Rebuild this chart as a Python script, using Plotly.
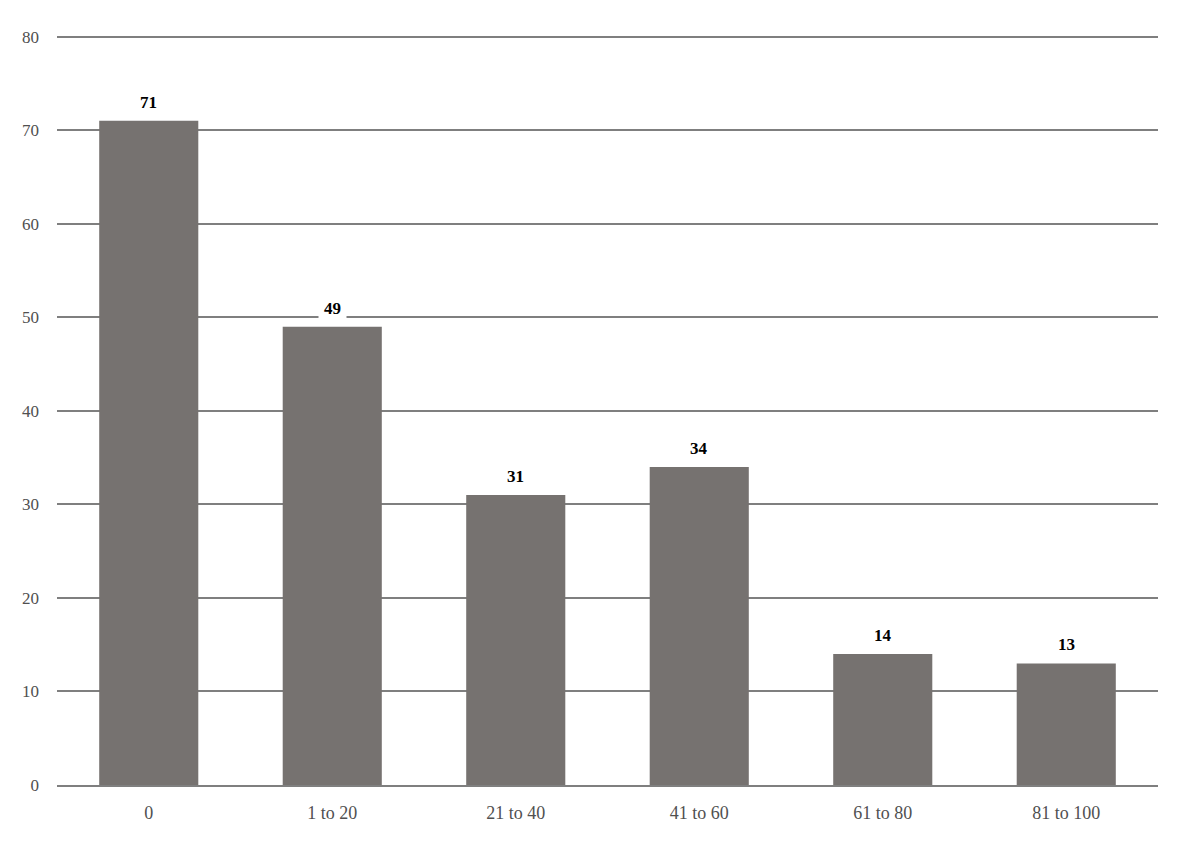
import plotly.graph_objects as go

# categories and counts
categories = ["0", "1 to 20", "21 to 40", "41 to 60", "61 to 80", "81 to 100"]
counts = [71, 49, 31, 34, 14, 13]
y_ticks = [0, 10, 20, 30, 40, 50, 60, 70, 80]

fig = go.Figure()
fig.add_trace(go.Bar(x=categories, y=counts, marker_color="#767270",
                     marker_line_width=0, width=0.54))

# value labels with white box so they cut the gridlines
for c, v in zip(categories, counts):
    fig.add_annotation(x=c, y=v, text="<b>%d</b>" % v, showarrow=False,
                       yanchor="bottom", yshift=3, bgcolor="white",
                       borderpad=5,
                       font=dict(family="Liberation Serif", size=17, color="black"))

fig.update_layout(
    width=1184, height=844,
    margin=dict(l=49, r=34, t=24, b=67),
    plot_bgcolor="white", paper_bgcolor="white",
    showlegend=False,
    font=dict(family="Liberation Serif", size=17, color="#505050"),
    bargap=0.46,
)
fig.update_xaxes(showgrid=False, showline=True, linecolor="#7f7f7f", linewidth=2,
                 ticks="", ticklabelstandoff=10, tickfont=dict(size=18))
fig.update_yaxes(range=[0, 80.5], tickvals=y_ticks, showgrid=True, gridcolor="#7f7f7f",
                 gridwidth=2, zeroline=False, showline=False, ticks="",
                 ticklabelstandoff=17)

fig.write_html("out.html")
